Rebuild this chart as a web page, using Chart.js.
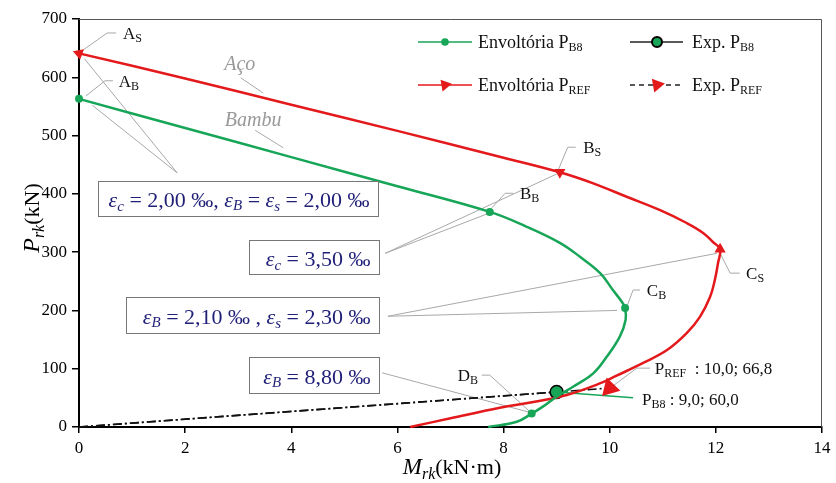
<!DOCTYPE html>
<html><head><meta charset="utf-8">
<script src="https://cdn.jsdelivr.net/npm/chart.js@4/dist/chart.umd.min.js"></script>
<style>html,body{margin:0;padding:0;background:#fff}</style>
</head><body>
<canvas id="c" width="836" height="483"></canvas>
<script>
// ---- data (M in kN·m, P in kN) ----
const xTicks = [0, 2, 4, 6, 8, 10, 12, 14];
const yTicks = [0, 100, 200, 300, 400, 500, 600, 700];

// Envoltória P_B8 (bamboo)
const gM = [0, 2, 4, 6, 7.74, 8.4, 9.06, 9.44, 9.82, 10.06, 10.25, 10.29, 10.3, 10.19, 9.94, 9.69, 9.31, 9.0, 8.74, 8.53, 8.25, 7.71];
const gP = [563, 513, 463, 413, 369, 345, 316, 292, 264, 235, 212, 204, 184, 155, 120, 92, 69, 52, 35, 23, 9, 0];
const gKey = [0, 4, 11, 19];           // A_B, B_B, C_B, D_B

// Envoltória P_REF (steel)
const rM = [0, 2, 4, 6, 8, 9.06, 9.69, 10.32, 10.95, 11.45, 11.76, 11.95, 12.08, 12.04, 11.98, 11.89, 11.70, 11.45, 11.08, 10.63, 10.13, 9.85, 9.19, 8.56, 7.93, 7.0, 6.24];
const rP = [641, 598, 553, 508, 462, 437, 418, 395, 372, 350, 333, 317, 305, 281, 252, 223, 189, 161, 132, 110, 88, 76, 55, 43, 33, 15, 0];
const rKey = [0, 5, 12];               // A_S, B_S, C_S

// Experimental results
const expB8M = [0, 9.0];
const expB8P = [0, 60.0];
const expRefM = [0, 10.0];
const expRefP = [0, 66.8];

// ---- styling ----
const FF = '"Liberation Serif", "Times New Roman", serif';
const GREEN = '#17a557';
const RED = '#e3191c';
const NAVY = '#1f1f78';
const GRAY = '#a8a8a8';
const toXY = (xs, ys) => xs.map((v, i) => ({x: v, y: ys[i]}));
function fnt(size, italic) { return (italic ? 'italic ' : '') + size + 'px ' + FF; }
function rich(ctx, x, y, parts, align) {
  let w = 0;
  parts.forEach(p => { ctx.font = fnt(p[1], p[2]); w += ctx.measureText(p[0]).width; });
  let cx = align === 'right' ? x - w : (align === 'center' ? x - w / 2 : x);
  ctx.textAlign = 'left'; ctx.textBaseline = 'alphabetic';
  parts.forEach(p => {
    ctx.font = fnt(p[1], p[2]);
    ctx.fillText(p[0], cx, y + (p[3] || 0));
    cx += ctx.measureText(p[0]).width;
  });
  return w;
}
function tri(ctx, x, y, r, rotDeg, fill) {
  let a = rotDeg * Math.PI / 180;
  ctx.beginPath();
  for (let k = 0; k < 3; k++) {
    const px = x + Math.sin(a) * r, py = y - Math.cos(a) * r;
    k ? ctx.lineTo(px, py) : ctx.moveTo(px, py);
    a += 2 * Math.PI / 3;
  }
  ctx.closePath(); ctx.fillStyle = fill; ctx.fill();
}

// annotation layout (data coordinates)
const leaderLines = [
  [[0.08, 647], [0.53, 676], [0.70, 676]],
  [[0.13, 568], [0.49, 594], [0.64, 594]],
  [[9.03, 441], [9.21, 480], [9.36, 480]],
  [[7.78, 376], [8.03, 401], [8.18, 401]],
  [[12.08, 298], [12.27, 264], [12.45, 264]],
  [[10.33, 208], [10.44, 235], [10.57, 235]],
  [[8.5, 26], [7.74, 89], [7.59, 89]],
  [[10.04, 69], [10.51, 101], [10.76, 101]],
  [[3.05, 599], [3.47, 573]],
  [[3.32, 509], [3.85, 479]],
  [[1.85, 436], [0.1, 632]], [[1.85, 436], [0.25, 552]],
  [[5.77, 298], [7.7, 366]], [[5.77, 298], [9.0, 434]],
  [[5.82, 190], [10.14, 200]], [[5.82, 190], [12.02, 298]],
  [[5.71, 93], [8.5, 25]]
];
const pointLabels = [
  {m: 0.83, p: 676, t: 'A', s: 'S'},
  {m: 0.75, p: 594, t: 'A', s: 'B'},
  {m: 9.5, p: 480, t: 'B', s: 'S'},
  {m: 8.31, p: 401, t: 'B', s: 'B'},
  {m: 12.57, p: 264, t: 'C', s: 'S'},
  {m: 10.7, p: 235, t: 'C', s: 'B'},
  {m: 7.52, p: 89, t: 'D', s: 'B', right: true}
];
const boxes = [
  {x1: 0.36, y1: 422, x2: 5.63, y2: 362, parts: [['ε',22,true],['c',15,true,4],[' = 2,00 ‰, ',22],['ε',22,true],['B',15,true,3],[' = ',22],['ε',22,true],['s',15,true,4],[' = 2,00 ‰',22]]},
  {x1: 3.2, y1: 321, x2: 5.65, y2: 262, parts: [['ε',22,true],['c',15,true,4],[' = 3,50 ‰',22]]},
  {x1: 0.89, y1: 223, x2: 5.65, y2: 161, parts: [['ε',22,true],['B',15,true,3],[' = 2,10 ‰ , ',22],['ε',22,true],['s',15,true,4],[' = 2,30 ‰',22]]},
  {x1: 3.2, y1: 120, x2: 5.65, y2: 58, parts: [['ε',22,true],['B',15,true,3],[' = 8,80 ‰',22]]}
];

const annot = {
  id: 'annot',
  beforeDatasetsDraw(chart) {
    const {ctx, scales: {x, y}} = chart;
    ctx.save();
    ctx.strokeStyle = GRAY; ctx.lineWidth = 1;
    leaderLines.forEach(l => {
      ctx.beginPath();
      l.forEach((q, i) => { const px = x.getPixelForValue(q[0]), py = y.getPixelForValue(q[1]); i ? ctx.lineTo(px, py) : ctx.moveTo(px, py); });
      ctx.stroke();
    });
    // green leader from experimental P_B8
    ctx.strokeStyle = GREEN; ctx.lineWidth = 1.5;
    ctx.beginPath();
    ctx.moveTo(x.getPixelForValue(expB8M[1]), y.getPixelForValue(expB8P[1]));
    ctx.lineTo(x.getPixelForValue(10.44), y.getPixelForValue(50));
    ctx.stroke();
    ctx.restore();
  },
  afterDraw(chart) {
    const {ctx, chartArea: ca, scales: {x, y}} = chart;
    ctx.save();
    // top/right frame
    ctx.strokeStyle = '#555'; ctx.lineWidth = 1;
    ctx.beginPath(); ctx.moveTo(ca.left, ca.top + 0.5); ctx.lineTo(ca.right - 0.5, ca.top + 0.5); ctx.lineTo(ca.right - 0.5, ca.bottom); ctx.stroke();

    // point labels
    ctx.fillStyle = '#111';
    pointLabels.forEach(L => {
      const px = x.getPixelForValue(L.m), py = y.getPixelForValue(L.p) + 6;
      rich(ctx, px, py, [[L.t, 17], [L.s, 12, false, 3]], L.right ? 'right' : 'left');
    });
    // experimental labels
    rich(ctx, x.getPixelForValue(10.85), y.getPixelForValue(101) + 6, [['P', 17], ['REF', 12, false, 3], ['  : 10,0; 66,8', 17]], 'left');
    rich(ctx, x.getPixelForValue(10.61), y.getPixelForValue(48) + 6, [['P', 17], ['B8', 12, false, 3], [' : 9,0; 60,0', 17]], 'left');

    // material labels
    ctx.fillStyle = '#999';
    rich(ctx, x.getPixelForValue(3.03), y.getPixelForValue(624) + 7, [['Aço', 20, true]], 'center');
    rich(ctx, x.getPixelForValue(3.28), y.getPixelForValue(528) + 7, [['Bambu', 20, true]], 'center');

    // boxes
    boxes.forEach(b => {
      const bx1 = Math.round(x.getPixelForValue(b.x1)) + 0.5, bx2 = Math.round(x.getPixelForValue(b.x2)) + 0.5;
      const by1 = Math.round(y.getPixelForValue(b.y1)) + 0.5, by2 = Math.round(y.getPixelForValue(b.y2)) + 0.5;
      ctx.fillStyle = '#fff'; ctx.fillRect(bx1, by1, bx2 - bx1, by2 - by1);
      ctx.strokeStyle = '#777'; ctx.lineWidth = 1; ctx.strokeRect(bx1, by1, bx2 - bx1, by2 - by1);
      ctx.fillStyle = NAVY;
      rich(ctx, bx2 - 9, (by1 + by2) / 2 + 8, b.parts, 'right');
    });

    // legend
    const rows = [42, 85];
    ctx.lineWidth = 1.6; ctx.strokeStyle = GREEN;
    ctx.beginPath(); ctx.moveTo(418, rows[0]); ctx.lineTo(472, rows[0]); ctx.stroke();
    ctx.fillStyle = GREEN; ctx.beginPath(); ctx.arc(445, rows[0], 3.8, 0, 2 * Math.PI); ctx.fill();
    ctx.strokeStyle = RED;
    ctx.beginPath(); ctx.moveTo(418, rows[1]); ctx.lineTo(472, rows[1]); ctx.stroke();
    tri(ctx, 445, rows[1], 7, 80, RED);
    ctx.strokeStyle = '#222'; ctx.lineWidth = 1.5;
    ctx.beginPath(); ctx.moveTo(630, rows[0]); ctx.lineTo(683, rows[0]); ctx.stroke();
    ctx.fillStyle = GREEN; ctx.beginPath(); ctx.arc(657, rows[0], 5, 0, 2 * Math.PI); ctx.fill();
    ctx.strokeStyle = '#000'; ctx.lineWidth = 2; ctx.stroke();
    ctx.lineWidth = 1.5; ctx.strokeStyle = '#222';
    ctx.setLineDash([5, 4]);
    ctx.beginPath(); ctx.moveTo(630, rows[1]); ctx.lineTo(683, rows[1]); ctx.stroke();
    ctx.setLineDash([]);
    tri(ctx, 657, rows[1], 8, 80, RED);
    ctx.fillStyle = '#111';
    rich(ctx, 478, rows[0] + 6, [['Envoltória P', 18], ['B8', 12, false, 3]], 'left');
    rich(ctx, 478, rows[1] + 6, [['Envoltória P', 18], ['REF', 12, false, 3]], 'left');
    rich(ctx, 692, rows[0] + 6, [['Exp. P', 18], ['B8', 12, false, 3]], 'left');
    rich(ctx, 692, rows[1] + 6, [['Exp. P', 18], ['REF', 12, false, 3]], 'left');

    // axis titles
    ctx.fillStyle = '#000';
    rich(ctx, 452, 474, [['M', 23, true], ['rk', 16, true, 5], ['(kN·m)', 22]], 'center');
    ctx.translate(39, 218); ctx.rotate(-Math.PI / 2);
    rich(ctx, 0, 0, [['P', 24, true], ['rk', 16, true, 5], ['(kN)', 22]], 'center');
    ctx.restore();
  }
};

new Chart(document.getElementById('c'), {
  type: 'line',
  data: {
    datasets: [
      {
        label: 'Envoltória P_B8', data: toXY(gM, gP), clip: false,
        borderColor: GREEN, backgroundColor: GREEN, borderWidth: 2.5, tension: 0.4,
        pointRadius: c => gKey.includes(c.dataIndex) ? 4 : 0, pointHoverRadius: 0, pointBorderWidth: 0
      },
      {
        label: 'Envoltória P_REF', data: toXY(rM, rP), clip: false,
        borderColor: RED, backgroundColor: RED, borderWidth: 2.5, tension: 0.4,
        pointStyle: 'triangle', pointBorderWidth: 0, pointHoverRadius: 0,
        pointRadius: c => rKey.includes(c.dataIndex) ? 6.5 : 0,
        pointRotation: c => [-70, 180, 0][rKey.indexOf(c.dataIndex)] || 0
      },
      {
        label: 'Exp. P_B8', data: toXY(expB8M, expB8P), clip: false,
        borderColor: '#111', borderWidth: 1.6, borderDash: [9, 3, 2, 3], backgroundColor: GREEN,
        pointBorderColor: '#000', pointBorderWidth: 1.5, pointRadius: [0, 6.5], pointHoverRadius: 0
      },
      {
        label: 'Exp. P_REF', data: toXY(expRefM, expRefP), clip: false,
        borderColor: '#111', borderWidth: 1.6, borderDash: [9, 3, 2, 3], backgroundColor: RED,
        pointStyle: 'triangle', pointRotation: 224, pointBorderWidth: 0, pointRadius: [0, 11], pointHoverRadius: 0
      }
    ]
  },
  options: {
    responsive: false, animation: false, devicePixelRatio: 1,
    layout: {padding: {top: 19, right: 14, left: 0, bottom: 0}},
    plugins: {legend: {display: false}, tooltip: {enabled: false}},
    scales: {
      x: {
        type: 'linear', min: 0, max: 14,
        afterBuildTicks: s => { s.ticks = xTicks.map(v => ({value: v})); },
        afterFit: s => { s.height = 56; },
        grid: {drawOnChartArea: false, drawTicks: true, tickLength: 6, color: '#000', lineWidth: 1.5},
        border: {display: true, color: '#000', width: 2},
        ticks: {color: '#000', padding: 5, font: {family: FF, size: 17}, maxRotation: 0}
      },
      y: {
        type: 'linear', min: 0, max: 700,
        afterBuildTicks: s => { s.ticks = yTicks.map(v => ({value: v})); },
        afterFit: s => { s.width = 79; },
        grid: {drawOnChartArea: false, drawTicks: true, tickLength: 7, color: '#000', lineWidth: 1.5},
        border: {display: true, color: '#000', width: 2},
        ticks: {color: '#000', padding: 5, font: {family: FF, size: 17}}
      }
    }
  },
  plugins: [annot]
});
</script>
</body></html>
